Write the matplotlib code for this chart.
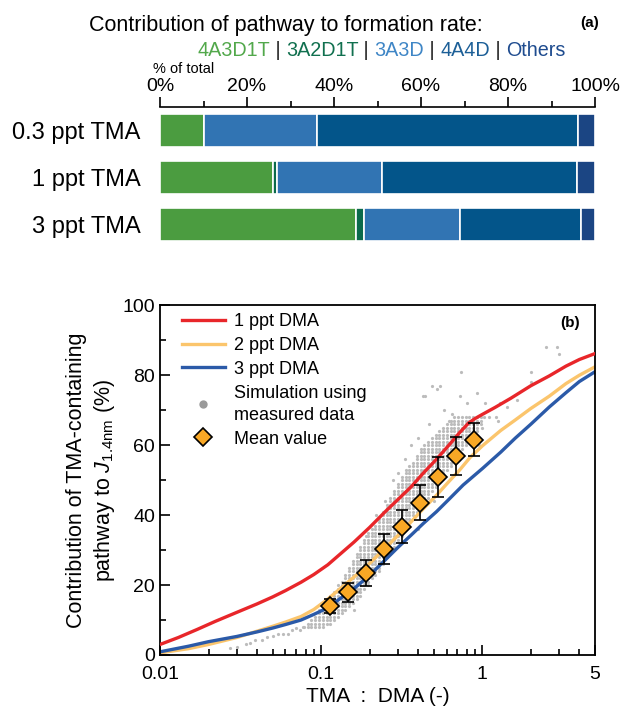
import matplotlib
matplotlib.use("Agg")
import matplotlib.pyplot as plt
from matplotlib.lines import Line2D
from matplotlib.ticker import MultipleLocator, LogLocator, NullFormatter

plt.rcParams['font.family'] = ['Liberation Sans', 'DejaVu Sans']
plt.rcParams['mathtext.fontset'] = 'custom'
plt.rcParams['mathtext.rm'] = 'Liberation Sans'
plt.rcParams['mathtext.it'] = 'Liberation Sans:italic'

# ---------------------------
# Panel (a) data: % of total per pathway
# ---------------------------
rows = ["0.3 ppt TMA", "1 ppt TMA", "3 ppt TMA"]
pathways = ["4A3D1T", "3A2D1T", "3A3D", "4A4D", "Others"]
share_4a3d1t = [10.0, 26.0, 45.0]
share_3a2d1t = [0.0, 0.9, 2.0]
share_3a3d = [26.1, 24.1, 22.0]
share_4a4d = [59.9, 44.9, 27.8]
share_others = [4.0, 4.1, 3.2]
bar_colors = ["#4b9c40", "#0b6a4b", "#3174b3", "#03558a", "#1b4583"]
text_colors = ["#52a84b", "#11704f", "#3f86c6", "#1c5f97", "#1f4c8f"]

# ---------------------------
# Panel (b) data
# ---------------------------
red_x = [0.01, 0.013, 0.017, 0.022, 0.03, 0.04, 0.05, 0.06, 0.075, 0.09, 0.11, 0.13, 0.16,
         0.2, 0.25, 0.3, 0.36, 0.43, 0.52, 0.62, 0.72, 0.82, 0.9, 1.0, 1.2, 1.5, 2.0, 2.6,
         3.3, 4.0, 5.0]
red_y = [3.0, 5.0, 7.3, 9.6, 12.2, 14.6, 16.6, 18.4, 20.8, 23.0, 25.8, 28.7, 32.3,
         36.5, 41.0, 44.5, 48.0, 52.0, 56.0, 60.0, 63.5, 66.3, 67.6, 68.8, 70.8, 73.4, 77.0, 79.8,
         82.6, 84.5, 86.2]

orange_x = [0.01, 0.015, 0.02, 0.03, 0.04, 0.05, 0.06, 0.075, 0.09, 0.11, 0.13, 0.16, 0.2,
            0.25, 0.3, 0.36, 0.43, 0.52, 0.62, 0.72, 0.84, 1.0, 1.3, 1.6, 2.0, 2.6, 3.3, 4.0, 5.0]
orange_y = [0.6, 1.8, 3.0, 5.0, 6.8, 8.2, 9.4, 11.0, 13.0, 16.0, 18.8, 22.3, 26.2,
            30.6, 34.2, 38.0, 41.8, 45.7, 49.6, 52.8, 56.5, 59.8, 64.2, 67.2, 70.5, 74.0, 77.6, 80.0, 82.4]

blue_x = [0.01, 0.015, 0.02, 0.03, 0.04, 0.05, 0.06, 0.075, 0.09, 0.11, 0.13, 0.16, 0.2,
          0.25, 0.3, 0.36, 0.43, 0.52, 0.62, 0.76, 0.9, 1.0, 1.3, 1.6, 2.0, 2.6, 3.3, 4.0, 5.0]
blue_y = [0.9, 2.5, 3.8, 5.3, 6.6, 7.7, 8.7, 10.0, 11.6, 13.5, 16.0, 19.0, 22.8,
          27.2, 30.8, 34.2, 37.6, 41.0, 44.5, 48.6, 51.5, 53.3, 58.0, 62.0, 66.0, 70.9, 75.0, 78.2, 81.0]

mean_x = [0.113, 0.147, 0.191, 0.245, 0.319, 0.413, 0.529, 0.684, 0.886]
mean_y = [14.0, 17.9, 23.5, 30.2, 36.7, 43.6, 50.9, 56.9, 61.6]
mean_err = [2.1, 2.8, 3.7, 4.3, 4.7, 5.1, 5.6, 5.4, 4.7]

# simulation cloud, read as a raster: x columns, and for each y row the first/last column hit
sim_grid_x = [0.060, 0.063, 0.067, 0.070, 0.074, 0.078, 0.083, 0.087, 0.092, 0.097,
              0.102, 0.108, 0.114, 0.120, 0.127, 0.134, 0.141, 0.149, 0.157, 0.166,
              0.175, 0.185, 0.195, 0.206, 0.217, 0.229, 0.242, 0.255, 0.269, 0.284,
              0.300, 0.316, 0.334, 0.352, 0.372, 0.392, 0.414, 0.437, 0.461, 0.486,
              0.513, 0.541, 0.571, 0.603, 0.636, 0.671, 0.708, 0.747, 0.788, 0.831,
              0.877, 0.925, 0.976, 1.030]
sim_row_y = list(range(8, 69))
sim_row_first = [5, 6, 7, 8, 9, 9, 10, 11, 12, 12, 13, 14, 14, 15, 16, 16, 17, 17, 18, 18,
                 19, 19, 20, 20, 21, 21, 22, 22, 23, 24, 25, 25, 26, 26, 27, 27, 28, 28, 29, 29,
                 30, 30, 31, 31, 32, 32, 33, 34, 35, 35, 36, 36, 37, 38, 39, 40, 41, 42, 43, 44, 45]
sim_row_last = [10, 12, 13, 14, 15, 16, 17, 18, 19, 20, 20, 21, 22, 22, 23, 24, 25, 25, 26, 26,
                27, 28, 28, 29, 29, 30, 31, 31, 32, 32, 33, 34, 34, 35, 36, 36, 37, 38, 38, 39,
                40, 40, 41, 42, 42, 43, 44, 44, 45, 46, 46, 47, 48, 48, 49, 50, 51, 51, 52, 52, 53]

# scattered points away from the dense band
out_x = [0.027, 0.030, 0.034, 0.036, 0.039, 0.043, 0.046, 0.050, 0.054, 0.058, 0.062, 0.066,
         0.070, 0.074, 0.077, 0.16, 0.19, 0.22, 0.25, 0.28, 0.30, 0.33, 0.36, 0.40, 0.43,
         0.44, 0.47, 0.49, 0.52, 0.55, 0.58, 0.62, 0.65, 0.73, 0.74, 0.80, 0.92, 0.95, 1.0,
         1.04, 1.1, 1.22, 1.25, 1.28, 1.43, 1.63, 2.0, 2.0, 2.5, 2.9, 3.0, 0.40, 0.50, 0.70]
out_y = [2.0, 2.2, 3.0, 3.4, 4.3, 4.3, 5.2, 5.5, 6.0, 6.0, 6.0, 7.0,
         7.7, 7.0, 8.1, 13.0, 34.0, 40.0, 44.0, 50.0, 52.0, 56.0, 60.0, 62.0, 74.0,
         74.0, 66.0, 77.0, 76.0, 77.0, 70.0, 67.0, 69.0, 74.0, 81.0, 72.0, 75.0, 60.0, 65.0,
         72.0, 68.0, 68.0, 67.0, 72.0, 71.0, 73.0, 78.0, 81.0, 88.0, 88.0, 86.0, 36.0, 44.0, 52.0]

sim_x, sim_y = list(out_x), list(out_y)
for y, i0, i1 in zip(sim_row_y, sim_row_first, sim_row_last):
    for x in sim_grid_x[i0:i1 + 1]:
        sim_x.append(x)
        sim_y.append(y)

fig = plt.figure(figsize=(6.25, 7.10), dpi=100)

# ---------------------------
# Panel (a)
# ---------------------------
ax1 = fig.add_axes([0.256, 0.6507, 0.696, 0.1986])
segments = [share_4a3d1t, share_3a2d1t, share_3a3d, share_4a4d, share_others]
left = [0.0, 0.0, 0.0]
for vals, col in zip(segments, bar_colors):
    ax1.barh(range(len(rows)), vals, left=left, height=0.7, color=col,
             edgecolor="white", linewidth=1.2)
    left = [l + v for l, v in zip(left, vals)]

ax1.set_xlim(0, 100)
ax1.set_ylim(2.5, -0.49)
ax1.set_yticks(range(len(rows)))
ax1.set_yticklabels(rows, fontsize=17)
ax1.tick_params(axis="y", length=0, pad=14)
ax1.xaxis.tick_top()
ax1.set_xticks([0, 20, 40, 60, 80, 100])
ax1.set_xticklabels(["0%", "20%", "40%", "60%", "80%", "100%"], fontsize=14)
ax1.xaxis.set_minor_locator(MultipleLocator(10))
ax1.tick_params(axis="x", which="major", direction="out", length=7, width=1.2, pad=1.5)
ax1.tick_params(axis="x", which="minor", direction="out", length=4.5, width=1.2)
for s in ["left", "right", "bottom"]:
    ax1.spines[s].set_visible(False)
ax1.spines["top"].set_linewidth(1.2)

fig.text(0.457, 1 - 26 / 710, "Contribution of pathway to formation rate:",
         ha="center", va="center", fontsize=15.5)
fig.text(0.944, 1 - 23 / 710, "(a)", ha="center", va="center", fontsize=11, fontweight="bold")
fig.text(153 / 625, 1 - 69 / 710, "% of total", ha="left", va="center", fontsize=10.5)

# multicoloured pathway key
prev = fig.text(197 / 625, 1 - 50 / 710, pathways[0], ha="left", va="center",
                fontsize=14.2, color=text_colors[0])
for name, col in zip(pathways[1:], text_colors[1:]):
    prev = ax1.annotate(" | ", xy=(1, 0), xycoords=prev, ha="left", va="bottom",
                        fontsize=14.2, color="#222222", annotation_clip=False)
    prev = ax1.annotate(name, xy=(1, 0), xycoords=prev, ha="left", va="bottom",
                        fontsize=14.2, color=col, annotation_clip=False)

# ---------------------------
# Panel (b)
# ---------------------------
ax2 = fig.add_axes([0.256, 0.0775, 0.696, 0.4925])
ax2.plot(sim_x, sim_y, "o", ms=2.3, color="#bcbcbc", mec="none", zorder=1)
ax2.plot(red_x, red_y, color="#e8262a", lw=2.4, zorder=3)
ax2.plot(orange_x, orange_y, color="#fbc56c", lw=2.4, zorder=2)
ax2.plot(blue_x, blue_y, color="#2b5aa8", lw=2.4, zorder=2.5)
ax2.errorbar(mean_x, mean_y, yerr=mean_err, fmt="D", ms=9, mfc="#f9a825", mec="black",
             mew=1.2, ecolor="black", elinewidth=1.2, capsize=4, capthick=1.2, zorder=4)

ax2.set_xscale("log")
ax2.set_xlim(0.01, 5)
ax2.set_ylim(0, 100)
ax2.set_xticks([0.01, 0.1, 1, 5])
ax2.set_xticklabels(["0.01", "0.1", "1", "5"])
ax2.xaxis.set_minor_locator(LogLocator(base=10, subs=range(2, 10), numticks=20))
ax2.xaxis.set_minor_formatter(NullFormatter())
ax2.set_yticks([0, 20, 40, 60, 80, 100])
ax2.yaxis.set_minor_locator(MultipleLocator(10))
ax2.tick_params(which="major", direction="in", length=7.5, width=1.2, labelsize=14,
                top=False, right=False)
ax2.tick_params(axis="x", which="major", pad=8)
ax2.tick_params(which="minor", direction="in", length=4.5, width=1.2, top=False, right=False)
for s in ax2.spines.values():
    s.set_linewidth(1.3)

ax2.set_xlabel("TMA  :  DMA (-)", fontsize=15, labelpad=2.5)
ax2.set_ylabel("Contribution of TMA-containing\npathway to $J_{1.4\\mathrm{nm}}$ (%)",
               fontsize=15.5, labelpad=4, linespacing=1.3)
ax2.text(0.965, 0.95, "(b)", transform=ax2.transAxes, ha="right", va="center",
         fontsize=11, fontweight="bold")

handles = [
    Line2D([], [], color="#e8262a", lw=2.4),
    Line2D([], [], color="#fbc56c", lw=2.4),
    Line2D([], [], color="#2b5aa8", lw=2.4),
    Line2D([], [], ls="none", marker="o", ms=6, color="#9a9a9a", mec="none"),
    Line2D([], [], ls="none", marker="D", ms=9, mfc="#f9a825", mec="black", mew=1.2),
]
labels = ["1 ppt DMA", "2 ppt DMA", "3 ppt DMA", "Simulation using\nmeasured data", "Mean value"]
leg = ax2.legend(handles, labels, loc="upper left", bbox_to_anchor=(0.05, 0.978), frameon=False,
                 fontsize=13, handlelength=2.4, handletextpad=0.5, labelspacing=0.38,
                 borderaxespad=0, borderpad=0)
for t in leg.get_texts():
    t.set_linespacing(1.4)

fig.savefig("out.png", dpi=100)
